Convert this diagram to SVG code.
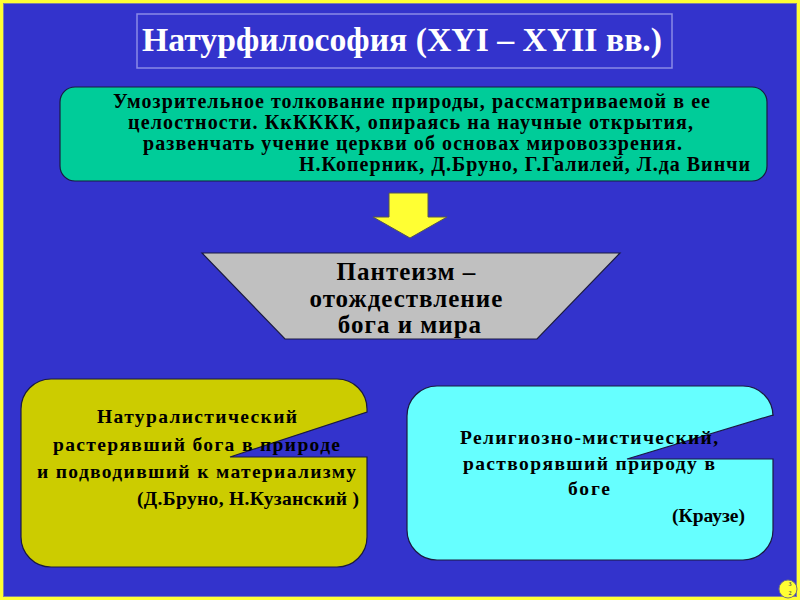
<svg xmlns="http://www.w3.org/2000/svg" width="800" height="600" viewBox="0 0 800 600">
<style>
.t{font-family:"Liberation Serif","Times New Roman",serif;font-weight:bold;fill:#000}
.node{stroke:#1a1a40;stroke-width:1.2}
</style>
<rect x="0" y="0" width="800" height="600" fill="#3333CC"/>
<rect x="1.5" y="1.5" width="797" height="597" fill="none" stroke="#FFFF33" stroke-width="3"/>
<rect x="3.5" y="3.5" width="793" height="593" fill="none" stroke="#8080a0" stroke-width="1"/>

<g id="title">
<rect x="137" y="14" width="535" height="54" fill="#3333CC" stroke="#8A8AE6" stroke-width="1.5"/>
<text x="142" y="51" class="t" style="fill:#fff" font-size="34" textLength="520" lengthAdjust="spacingAndGlyphs">Натурфилософия (XYI – XYII вв.)</text>
</g>

<g id="definition">
<rect x="60" y="87" width="707" height="94" rx="15" fill="#00CC99" class="node"/>
<text class="t" font-size="20">
<tspan x="113" y="108" textLength="597">Умозрительное толкование природы, рассматриваемой в ее</tspan>
<tspan x="128" y="129" textLength="565">целостности. КкКККК, опираясь на научные открытия,</tspan>
<tspan x="143" y="150" textLength="539">развенчать учение церкви об основах мировоззрения.</tspan>
<tspan x="299" y="171" textLength="451">Н.Коперник, Д.Бруно, Г.Галилей, Л.да Винчи</tspan>
</text>
</g>

<g id="connectors">
<path d="M389,193 H428 V217 H447 L410,238 L373,217 H389 Z" fill="#FFFF33" stroke="#555" stroke-width="1"/>
</g>

<g id="pantheism">
<path d="M202,253 H620 L537,339 H285 Z" fill="#C0C0C0" class="node"/>
<text class="t" font-size="25" text-anchor="middle" letter-spacing="1">
<tspan x="410" y="280">Пантеизм –</tspan>
<tspan x="410" y="307">отождествление</tspan>
<tspan x="410" y="333">бога и мира</tspan>
</text>
</g>

<g id="naturalistic">
<path d="M51,379 H337 A30,30 0 0 1 367,409 V412 L230,457 H367 V537 A30,30 0 0 1 337,567 H51 A30,30 0 0 1 21,537 V409 A30,30 0 0 1 51,379 Z" fill="#CCCC00" class="node"/>
<text class="t" font-size="19.5">
<tspan x="97" y="423" textLength="200">Натуралистический</tspan>
<tspan x="53" y="451" textLength="287">растерявший бога в природе</tspan>
<tspan x="37" y="478" textLength="319">и подводивший к материализму</tspan>
<tspan x="137" y="505" textLength="222">(Д.Бруно, Н.Кузанский )</tspan>
</text>
</g>

<g id="mystical">
<path d="M437,386 H743 A30,30 0 0 1 773,416 V415 L627,459 H773 V530 A30,30 0 0 1 743,560 H437 A30,30 0 0 1 407,530 V416 A30,30 0 0 1 437,386 Z" fill="#66FFFF" class="node"/>
<text class="t" font-size="19.5">
<tspan x="460" y="444" textLength="258">Религиозно-мистический,</tspan>
<tspan x="463" y="470" textLength="252">растворявший природу в</tspan>
<tspan x="568" y="495" textLength="42">боге</tspan>
<tspan x="672" y="522" textLength="73">(Краузе)</tspan>
</text>
</g>

<g id="pagenum">
<circle cx="788" cy="589" r="9" fill="#FFFF33" stroke="#777" stroke-width="1"/>
<text class="t" font-size="6" font-weight="normal" text-anchor="middle" style="fill:#555"><tspan x="790" y="586">3</tspan><tspan x="790" y="595">2</tspan></text>
</g>
</svg>
